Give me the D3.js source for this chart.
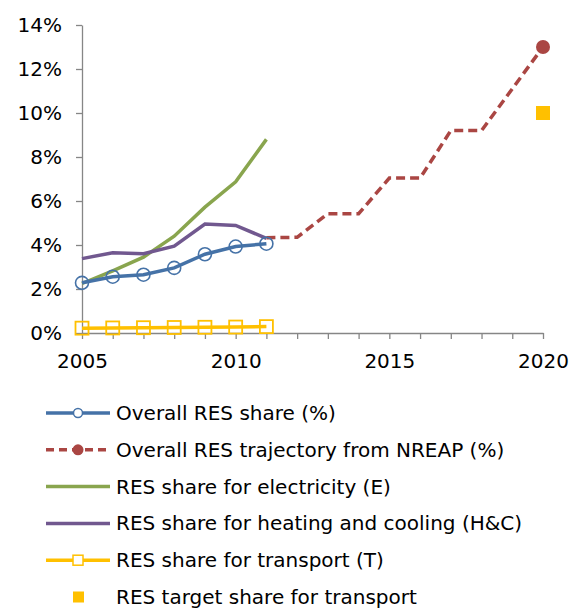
<!DOCTYPE html>
<html>
<head>
<meta charset="utf-8">
<script src="https://cdn.jsdelivr.net/npm/d3@7"></script>
<style>
  body { margin: 0; background: #fff; }
  svg { display: block; font-family: "DejaVu Sans", Verdana, sans-serif; }
</style>
</head>
<body>
<div id="chart"></div>
<script>
// values (percent)
const years = [2005, 2006, 2007, 2008, 2009, 2010, 2011];
const overallShare = [2.28, 2.56, 2.65, 2.96, 3.58, 3.93, 4.06];
const electricityShare = [2.25, 2.82, 3.45, 4.4, 5.72, 6.87, 8.8];
const heatingShare = [3.38, 3.65, 3.6, 3.95, 4.95, 4.89, 4.3];
const transportShare = [0.22, 0.23, 0.24, 0.25, 0.26, 0.27, 0.29];
const trajYears = [2011, 2012, 2013, 2014, 2015, 2016, 2017, 2018, 2019, 2020];
const trajectory = [4.33, 4.35, 5.42, 5.42, 7.04, 7.04, 9.2, 9.2, 11.1, 13.0];
const targetYear = [2020];
const targetTransport = [10.0];
const yTicks = [0, 2, 4, 6, 8, 10, 12, 14];
const xTicks = [2005, 2010, 2015, 2020];

const legendLabels = [
  "Overall RES share (%)",
  "Overall RES trajectory from NREAP (%)",
  "RES share for electricity (E)",
  "RES share for heating and cooling (H&C)",
  "RES share for transport (T)",
  "RES target share for transport"
];

const colors = {
  blue: "#4572a7",
  red: "#aa4643",
  green: "#89a54e",
  purple: "#71588f",
  gold: "#ffc000"
};

const width = 572, height = 608;
const svg = d3.select("#chart").append("svg")
  .attr("width", width)
  .attr("height", height);

const x = d3.scaleLinear().domain([2005, 2020]).range([82, 543]);
const y = d3.scaleLinear().domain([0, 14]).range([333, 25]);

// axes
const yAxis = svg.append("g")
  .attr("transform", "translate(82,0)")
  .call(d3.axisLeft(y).tickValues(yTicks).tickSize(6).tickSizeOuter(0)
    .tickFormat(d => d + "%"));
const xAxis = svg.append("g")
  .attr("transform", "translate(0,333)")
  .call(d3.axisBottom(x).ticks(15).tickSize(6).tickSizeOuter(0)
    .tickFormat(d => xTicks.includes(d) ? d : ""));

[yAxis, xAxis].forEach(g => {
  g.select(".domain").attr("stroke", "#868686").attr("stroke-width", 1.3);
  g.selectAll(".tick line").attr("stroke", "#868686").attr("stroke-width", 1.3);
  g.selectAll(".tick text")
    .attr("fill", "#000")
    .style("font-size", "20px")
    .style("font-family", "'DejaVu Sans', Verdana, sans-serif");
});
yAxis.selectAll(".tick text").attr("x", -20);
xAxis.selectAll(".tick text").attr("y", 21);

const line = d3.line().x(d => x(d[0])).y(d => y(d[1]));
const zip = (a, b) => a.map((v, i) => [v, b[i]]);

// series lines
svg.append("path")
  .datum(zip(trajYears, trajectory))
  .attr("d", line)
  .attr("fill", "none")
  .attr("stroke", colors.red)
  .attr("stroke-width", 3.5)
  .attr("stroke-dasharray", "9,5");

svg.append("circle")
  .attr("cx", x(trajYears[trajYears.length - 1]))
  .attr("cy", y(trajectory[trajectory.length - 1]))
  .attr("r", 7)
  .attr("fill", colors.red);

svg.append("path")
  .datum(zip(years, electricityShare))
  .attr("d", line)
  .attr("fill", "none")
  .attr("stroke", colors.green)
  .attr("stroke-width", 3.5);

svg.append("path")
  .datum(zip(years, heatingShare))
  .attr("d", line)
  .attr("fill", "none")
  .attr("stroke", colors.purple)
  .attr("stroke-width", 3.5);

svg.append("path")
  .datum(zip(years, overallShare))
  .attr("d", line)
  .attr("fill", "none")
  .attr("stroke", colors.blue)
  .attr("stroke-width", 3.5);

svg.selectAll(".ov")
  .data(zip(years, overallShare))
  .enter().append("circle")
  .attr("cx", d => x(d[0]))
  .attr("cy", d => y(d[1]))
  .attr("r", 6.5)
  .attr("fill", "none")
  .attr("stroke", colors.blue)
  .attr("stroke-width", 1.6);

svg.append("path")
  .datum(zip(years, transportShare))
  .attr("d", line)
  .attr("fill", "none")
  .attr("stroke", colors.gold)
  .attr("stroke-width", 3.5);

svg.selectAll(".tr")
  .data(zip(years, transportShare))
  .enter().append("rect")
  .attr("x", d => x(d[0]) - 6.5)
  .attr("y", d => y(d[1]) - 6.5)
  .attr("width", 13)
  .attr("height", 13)
  .attr("fill", "none")
  .attr("stroke", colors.gold)
  .attr("stroke-width", 1.8);

svg.selectAll(".tg")
  .data(zip(targetYear, targetTransport))
  .enter().append("rect")
  .attr("x", d => x(d[0]) - 7)
  .attr("y", d => y(d[1]) - 7)
  .attr("width", 14)
  .attr("height", 14)
  .attr("fill", colors.gold);

// legend
const legendStyles = [
  { color: colors.blue, dash: null, marker: "circleOpen", line: true },
  { color: colors.red, dash: "8,5", marker: "circleFill", line: true },
  { color: colors.green, dash: null, marker: null, line: true },
  { color: colors.purple, dash: null, marker: null, line: true },
  { color: colors.gold, dash: null, marker: "squareOpen", line: true },
  { color: colors.gold, dash: null, marker: "squareFill", line: false }
];

const legend = svg.append("g");
const rowY = d3.scaleLinear().domain([0, 5]).range([413, 597]);

legendLabels.forEach((label, i) => {
  const s = legendStyles[i];
  const g = legend.append("g").attr("transform", `translate(0,${rowY(i)})`);
  if (s.line) {
    g.append("line")
      .attr("x1", 46).attr("x2", 110)
      .attr("stroke", s.color)
      .attr("stroke-width", 3.5)
      .attr("stroke-dasharray", s.dash);
  }
  if (s.marker === "circleOpen") {
    g.append("circle").attr("cx", 78).attr("r", 4.5)
      .attr("fill", "#fff").attr("stroke", s.color).attr("stroke-width", 1.5);
  } else if (s.marker === "circleFill") {
    g.append("circle").attr("cx", 78).attr("r", 5.5).attr("fill", s.color);
  } else if (s.marker === "squareOpen") {
    g.append("rect").attr("x", 73).attr("y", -5).attr("width", 10).attr("height", 10)
      .attr("fill", "#fff").attr("stroke", s.color).attr("stroke-width", 1.5);
  } else if (s.marker === "squareFill") {
    g.append("rect").attr("x", 73).attr("y", -5.5).attr("width", 11).attr("height", 11)
      .attr("fill", s.color);
  }
  g.append("text")
    .attr("x", 116)
    .attr("y", 7)
    .style("font-size", "20px")
    .attr("fill", "#000")
    .text(label);
});
</script>
</body>
</html>
